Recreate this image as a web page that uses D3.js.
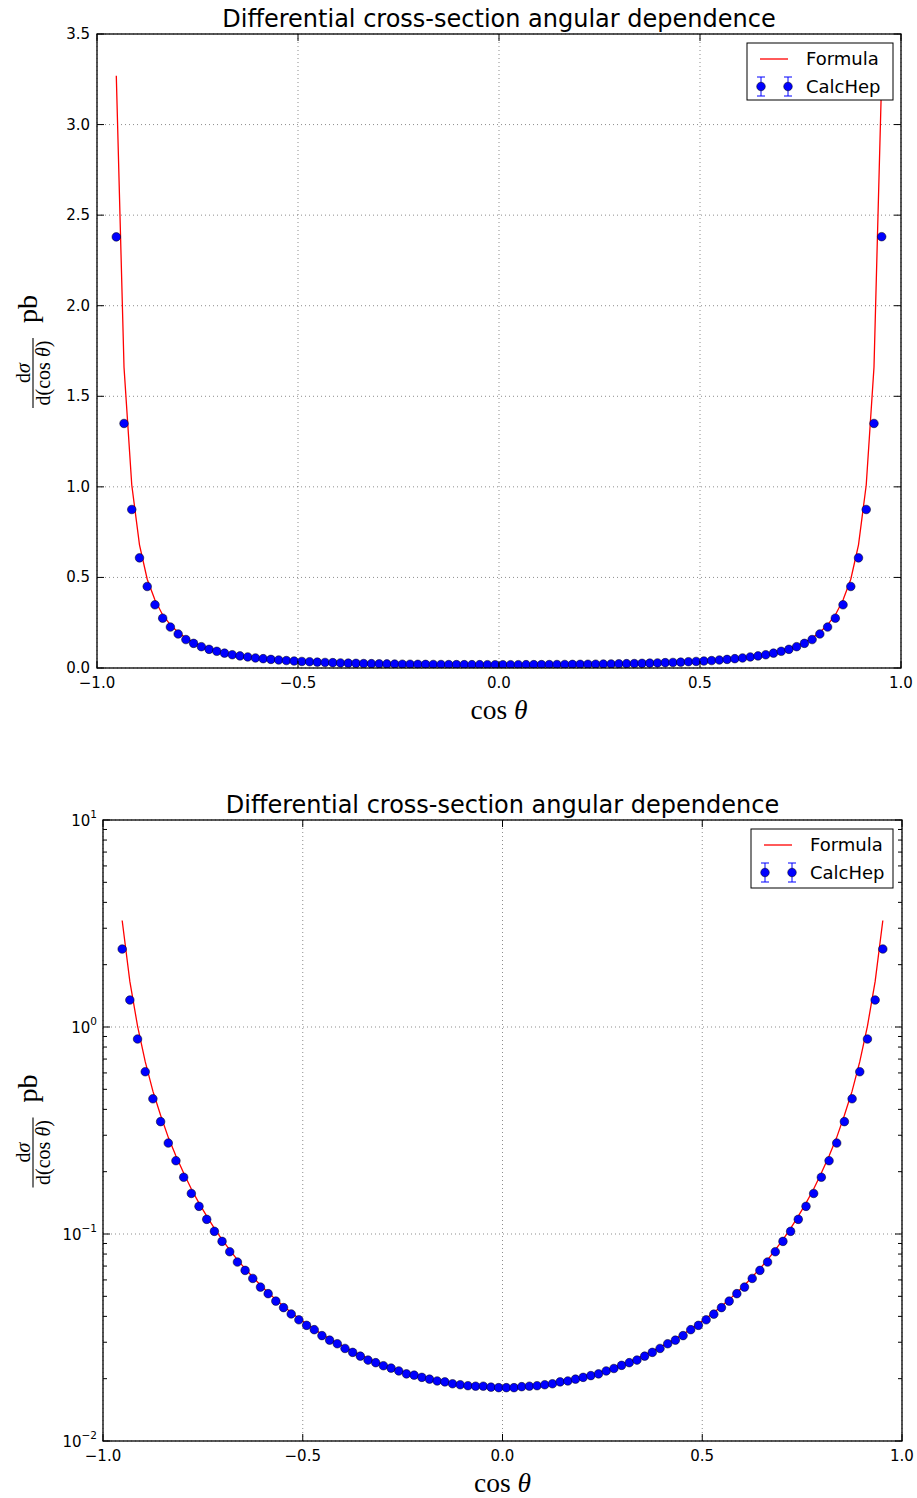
<!DOCTYPE html>
<html><head><meta charset="utf-8">
<script src="https://cdn.jsdelivr.net/npm/d3@7"></script>
<style>body{margin:0;background:#fff}svg{display:block}</style>
</head><body>
<svg id="chart" width="917" height="1498"></svg>
<script>
// ---------------- data ----------------
const cosTheta = [
 -0.952,-0.9328,-0.9135,-0.8943,-0.8751,-0.8558,-0.8366,-0.8174,-0.7981,-0.7789,
 -0.7597,-0.7404,-0.7212,-0.7020,-0.6828,-0.6635,-0.6443,-0.6251,-0.6058,-0.5866,
 -0.5674,-0.5481,-0.5289,-0.5097,-0.4904,-0.4712,-0.4520,-0.4327,-0.4135,-0.3943,
 -0.3750,-0.3558,-0.3366,-0.3173,-0.2981,-0.2789,-0.2596,-0.2404,-0.2212,-0.2019,
 -0.1827,-0.1635,-0.1442,-0.1250,-0.1058,-0.0865,-0.0673,-0.0481,-0.0288,-0.0096,
  0.0096, 0.0288, 0.0481, 0.0673, 0.0865, 0.1058, 0.1250, 0.1442, 0.1635, 0.1827,
  0.2019, 0.2212, 0.2404, 0.2596, 0.2789, 0.2981, 0.3173, 0.3366, 0.3558, 0.3750,
  0.3943, 0.4135, 0.4327, 0.4520, 0.4712, 0.4904, 0.5097, 0.5289, 0.5481, 0.5674,
  0.5866, 0.6058, 0.6251, 0.6443, 0.6635, 0.6828, 0.7020, 0.7212, 0.7404, 0.7597,
  0.7789, 0.7981, 0.8174, 0.8366, 0.8558, 0.8751, 0.8943, 0.9135, 0.9328, 0.952];

const calcHep = [
 2.38,1.35,0.875,0.608,0.450,0.349,0.275,0.226,0.188,0.157,
 0.136,0.1177,0.1030,0.0921,0.0821,0.0732,0.0667,0.0610,0.0554,0.0515,
 0.0474,0.0441,0.0411,0.0385,0.0362,0.0345,0.0323,0.0307,0.0295,0.0280,
 0.0268,0.0257,0.0246,0.0239,0.0231,0.0225,0.0218,0.0211,0.0208,0.0203,
 0.0199,0.0195,0.0193,0.0189,0.0187,0.0185,0.0184,0.0184,0.0182,0.0181,
 0.0181,0.0181,0.0183,0.0184,0.0185,0.0187,0.0189,0.0193,0.0195,0.0199,
 0.0203,0.0207,0.0211,0.0218,0.0224,0.0232,0.0239,0.0246,0.0257,0.0268,
 0.0280,0.0295,0.0307,0.0323,0.0345,0.0362,0.0385,0.0410,0.0441,0.0474,
 0.0515,0.0554,0.0610,0.0667,0.0732,0.0821,0.0921,0.1030,0.1177,0.136,
 0.157,0.188,0.226,0.275,0.349,0.450,0.608,0.875,1.350,2.381];

const formula = [
 3.27,1.66,1.01,0.68,0.49,0.375,0.293,0.238,0.197,0.165,
 0.141,0.122,0.1065,0.0940,0.0838,0.0750,0.0680,0.0620,0.0566,0.0522,
 0.0482,0.0448,0.0418,0.0391,0.0368,0.0347,0.0328,0.0312,0.0297,0.0284,
 0.0272,0.0261,0.0251,0.0242,0.0234,0.0227,0.0220,0.0214,0.0209,0.0204,
 0.0200,0.0196,0.0193,0.0190,0.0188,0.0186,0.0184,0.0183,0.0182,0.0182,
 0.0182,0.0182,0.0183,0.0184,0.0186,0.0188,0.0190,0.0193,0.0196,0.0200,
 0.0204,0.0209,0.0214,0.0220,0.0227,0.0234,0.0242,0.0251,0.0261,0.0272,
 0.0284,0.0297,0.0312,0.0328,0.0347,0.0368,0.0391,0.0418,0.0448,0.0482,
 0.0522,0.0566,0.0620,0.0680,0.0750,0.0838,0.0940,0.1065,0.122,0.141,
 0.165,0.197,0.238,0.293,0.375,0.49,0.68,1.01,1.66,3.27];

const xTicks = [-1.0,-0.5,0.0,0.5,1.0];
const yTicksLinear = [0.0,0.5,1.0,1.5,2.0,2.5,3.0,3.5];
const yTicksLog = [0.01,0.1,1,10];
const yMinorLog = [0.02,0.03,0.04,0.05,0.06,0.07,0.08,0.09,0.2,0.3,0.4,0.5,0.6,0.7,0.8,0.9,2,3,4,5,6,7,8,9];
const titleText = "Differential cross-section angular dependence";
const seriesNames = ["Formula","CalcHep"];

// ---------------- drawing ----------------
const svg = d3.select("#chart");
const SANS = "'DejaVu Sans', sans-serif";
const SERIF = "'Liberation Serif', 'DejaVu Serif', serif";
const tickFont = 15;

function panel(cfg){
  const g = svg.append("g");
  const x = d3.scaleLinear().domain([-1,1]).range([cfg.left,cfg.right]);
  const y = cfg.log
    ? d3.scaleLog().domain([0.01,10]).range([cfg.bottom,cfg.top])
    : d3.scaleLinear().domain([0,3.5]).range([cfg.bottom,cfg.top]);
  const yT = cfg.log ? yTicksLog : yTicksLinear;

  // grid
  const grid = g.append("g").attr("stroke","#000").attr("stroke-width",0.6)
     .attr("stroke-dasharray","1,3").attr("opacity",0.75);
  xTicks.forEach(v=>grid.append("line").attr("x1",x(v)).attr("x2",x(v)).attr("y1",cfg.top).attr("y2",cfg.bottom));
  yT.forEach(v=>grid.append("line").attr("x1",cfg.left).attr("x2",cfg.right).attr("y1",y(v)).attr("y2",y(v)));

  // data
  const clipId = "clip"+cfg.id;
  svg.append("clipPath").attr("id",clipId).append("rect")
     .attr("x",cfg.left).attr("y",cfg.top).attr("width",cfg.right-cfg.left).attr("height",cfg.bottom-cfg.top);
  const dg = g.append("g").attr("clip-path",`url(#${clipId})`);
  const line = d3.line().x((d,i)=>x(cosTheta[i])).y(d=>y(d));
  dg.append("path").datum(formula).attr("d",line).attr("fill","none")
     .attr("stroke","#ff0000").attr("stroke-width",1.3);
  dg.selectAll("circle").data(calcHep).enter().append("circle")
     .attr("cx",(d,i)=>x(cosTheta[i])).attr("cy",d=>y(d)).attr("r",4.3)
     .attr("fill","#0000ff").attr("stroke","#000").attr("stroke-width",0.5);

  // ticks (inward, all four sides)
  const tk = g.append("g").attr("stroke","#000").attr("stroke-width",1);
  xTicks.forEach(v=>{
    tk.append("line").attr("x1",x(v)).attr("x2",x(v)).attr("y1",cfg.bottom).attr("y2",cfg.bottom-7);
    tk.append("line").attr("x1",x(v)).attr("x2",x(v)).attr("y1",cfg.top).attr("y2",cfg.top+7);
  });
  yT.forEach(v=>{
    tk.append("line").attr("x1",cfg.left).attr("x2",cfg.left+7).attr("y1",y(v)).attr("y2",y(v));
    tk.append("line").attr("x1",cfg.right).attr("x2",cfg.right-7).attr("y1",y(v)).attr("y2",y(v));
  });
  if(cfg.log){
    yMinorLog.forEach(v=>{
      tk.append("line").attr("x1",cfg.left).attr("x2",cfg.left+4).attr("y1",y(v)).attr("y2",y(v));
      tk.append("line").attr("x1",cfg.right).attr("x2",cfg.right-4).attr("y1",y(v)).attr("y2",y(v));
    });
  }

  // frame
  g.append("rect").attr("x",cfg.left).attr("y",cfg.top).attr("width",cfg.right-cfg.left)
   .attr("height",cfg.bottom-cfg.top).attr("fill","none").attr("stroke","#000").attr("stroke-width",1.3);

  // tick labels
  const fmt = d3.format(".1f");
  xTicks.forEach(v=>{
    g.append("text").attr("x",x(v)).attr("y",cfg.bottom+20).attr("text-anchor","middle")
     .style("font-family",SANS).style("font-size",tickFont+"px").text(fmt(v));
  });
  yT.forEach(v=>{
    if(cfg.log){
      const e = Math.round(Math.log10(v));
      const t = g.append("text").attr("x",cfg.left-6).attr("y",y(v)+6).attr("text-anchor","end")
        .style("font-family",SANS).style("font-size",tickFont+"px");
      t.append("tspan").text("10");
      t.append("tspan").attr("dy",-8).style("font-size","10.5px").text(d3.format("d")(e));
    } else {
      g.append("text").attr("x",cfg.left-7).attr("y",y(v)).attr("dy","0.33em").attr("text-anchor","end")
       .style("font-family",SANS).style("font-size",tickFont+"px").text(fmt(v));
    }
  });

  // title
  g.append("text").attr("x",(cfg.left+cfg.right)/2).attr("y",cfg.top-7).attr("text-anchor","middle")
   .style("font-family",SANS).style("font-size","24px").text(titleText);

  // x label
  const xl = g.append("text").attr("x",(cfg.left+cfg.right)/2).attr("y",cfg.bottom+51)
    .attr("text-anchor","middle").style("font-family",SERIF).style("font-size","27.5px");
  xl.append("tspan").text("cos ");
  xl.append("tspan").style("font-style","italic").text("θ");

  // y label (rotated fraction + pb)
  const cy = (cfg.top+cfg.bottom)/2 + 57;
  const yl = g.append("g").attr("transform",`translate(33,${cy}) rotate(-90)`);
  yl.append("line").attr("x1",0).attr("x2",70).attr("y1",0).attr("y2",0).attr("stroke","#000").attr("stroke-width",1.1);
  const num = yl.append("text").attr("x",35).attr("y",-3).attr("text-anchor","middle")
    .style("font-family",SERIF).style("font-size","20px");
  num.append("tspan").text("d");
  num.append("tspan").style("font-style","italic").text("σ");
  const den = yl.append("text").attr("x",35).attr("y",17).attr("text-anchor","middle")
    .style("font-family",SERIF).style("font-size","20px");
  den.append("tspan").text("d(cos ");
  den.append("tspan").style("font-style","italic").text("θ");
  den.append("tspan").text(")");
  yl.append("text").attr("x",85).attr("y",4).style("font-family",SERIF).style("font-size","28px").text("pb");

  // legend
  const L = cfg.legend;
  const lg = g.append("g");
  lg.append("rect").attr("x",L.x).attr("y",L.y).attr("width",L.w).attr("height",L.h)
    .attr("fill","#fff").attr("stroke","#000").attr("stroke-width",1);
  const r1 = L.y+16, r2 = L.y+43.5;
  lg.append("line").attr("x1",L.x+13).attr("x2",L.x+41).attr("y1",r1).attr("y2",r1)
    .attr("stroke","#ff0000").attr("stroke-width",1.3);
  [L.x+14, L.x+41].forEach(mx=>{
    lg.append("line").attr("x1",mx).attr("x2",mx).attr("y1",r2-9.5).attr("y2",r2+9.5).attr("stroke","#0000ff").attr("stroke-width",1);
    lg.append("line").attr("x1",mx-4).attr("x2",mx+4).attr("y1",r2-9.5).attr("y2",r2-9.5).attr("stroke","#0000ff").attr("stroke-width",1);
    lg.append("line").attr("x1",mx-4).attr("x2",mx+4).attr("y1",r2+9.5).attr("y2",r2+9.5).attr("stroke","#0000ff").attr("stroke-width",1);
    lg.append("circle").attr("cx",mx).attr("cy",r2).attr("r",4.3).attr("fill","#0000ff").attr("stroke","#000").attr("stroke-width",0.5);
  });
  [r1,r2].forEach((ry,i)=>{
    lg.append("text").attr("x",L.x+59).attr("y",ry).attr("dy","0.36em")
      .style("font-family",SANS).style("font-size","18px").text(seriesNames[i]);
  });
}

panel({id:"a",left:97,right:901,top:34,bottom:668,log:false,legend:{x:747,y:43,w:146,h:57}});
panel({id:"b",left:103,right:902,top:820,bottom:1441,log:true,legend:{x:751,y:829,w:142,h:59}});
</script>
</body></html>
